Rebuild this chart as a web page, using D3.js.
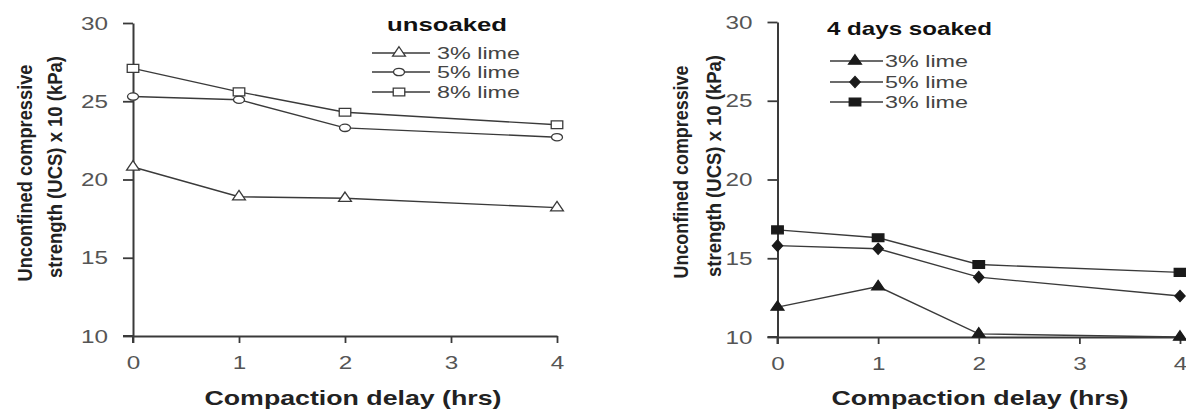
<!DOCTYPE html>
<html><head><meta charset="utf-8">
<script src="https://cdn.jsdelivr.net/npm/d3@7"></script>
<style>
html,body{margin:0;padding:0;background:#fff;}
svg{display:block;}
</style></head>
<body>
<svg id="chart" width="1186" height="409"></svg>
<script>
// ---- data ----
const delays = [0, 1, 2, 4];
const xTicks = [0, 1, 2, 3, 4];
const yTicks = [10, 15, 20, 25, 30];
const unsoaked3 = [20.8, 18.9, 18.8, 18.2];
const unsoaked5 = [25.3, 25.1, 23.3, 22.7];
const unsoaked8 = [27.1, 25.6, 24.3, 23.5];
const soaked3 = [11.9, 13.2, 10.2, 10.0];
const soaked5 = [15.8, 15.6, 13.8, 12.6];
const soaked8 = [16.8, 16.3, 14.6, 14.1];
const unsoakedLabels = ["3% lime", "5% lime", "8% lime"];
const soakedLabels = ["3% lime", "5% lime", "3% lime"];
const yLabelLines = ["Unconfined compressive", "strength (UCS) x 10 (kPa)"];
const xLabel = "Compaction delay (hrs)";

const svg = d3.select("#chart");
const ink = "#3a3a3a";

function marker(g, kind, filled, x, y) {
  let type, size, sx, sy;
  if (kind === "tri") { type = d3.symbolTriangle; size = filled ? 42 : 42; sx = 1.3; sy = 1.1; }
  else if (kind === "circ") { type = filled ? d3.symbolDiamond : d3.symbolCircle; size = filled ? 50 : 52; sx = 1.35; sy = filled ? 0.85 : 0.9; }
  else { type = d3.symbolSquare; size = 68; sx = 1.4; sy = 0.95; }
  g.append("path")
    .attr("d", d3.symbol().type(type).size(size)())
    .attr("transform", `translate(${x},${y}) scale(${sx},${sy})`)
    .attr("fill", filled ? "#1a1a1a" : "#fff")
    .attr("stroke", filled ? "#1a1a1a" : ink)
    .attr("stroke-width", 1.3)
    .attr("vector-effect", "non-scaling-stroke");
}

function panel(cfg) {
  const x = d3.scaleLinear().domain([0, 4]).range([cfg.x0, cfg.x1]);
  const y = d3.scaleLinear().domain([10, 30]).range([cfg.y0, cfg.y1]);
  const g = svg.append("g");

  // axes
  const ya = g.append("g").attr("transform", `translate(${cfg.x0},0)`)
    .call(d3.axisLeft(y).tickValues(yTicks).tickSize(10).tickSizeOuter(0).tickPadding(15));
  const xa = g.append("g").attr("transform", `translate(0,${cfg.y0})`)
    .call(d3.axisBottom(x).tickValues(xTicks).tickSize(7).tickSizeOuter(0).tickPadding(13).tickFormat(d3.format("d")));
  [ya, xa].forEach(a => {
    a.select(".domain").attr("stroke", ink).attr("stroke-width", 2);
    a.selectAll(".tick line").attr("stroke", ink).attr("stroke-width", 1.8);
    a.selectAll(".tick text")
      .attr("fill", "#555")
      .style("font-family", "'Liberation Sans', Arial, sans-serif")
      .style("font-size", "19px")
      .attr("textLength", function () { return this.textContent.length * 13.5; })
      .attr("lengthAdjust", "spacingAndGlyphs");
  });
  g.append("line").attr("x1", cfg.x0).attr("x2", cfg.x0).attr("y1", cfg.y0).attr("y2", cfg.y0 + 7)
    .attr("stroke", ink).attr("stroke-width", 2);
  g.append("line").attr("x1", cfg.x0 - 10).attr("x2", cfg.x0).attr("y1", cfg.y0).attr("y2", cfg.y0)
    .attr("stroke", ink).attr("stroke-width", 2);

  // series
  const line = d3.line().x((d, i) => x(delays[i])).y(d => y(d));
  const kinds = ["tri", "circ", "sq"];
  cfg.series.forEach((s) => {
    g.append("path").datum(s).attr("d", line).attr("fill", "none")
      .attr("stroke", ink).attr("stroke-width", 1.4);
  });
  cfg.series.forEach((s, k) => {
    s.forEach((v, i) => marker(g, kinds[k], cfg.filled, x(delays[i]), y(v)));
  });

  // legend
  g.append("text").attr("x", cfg.titleX).attr("y", cfg.titleY)
    .attr("textLength", cfg.titleW).attr("lengthAdjust", "spacingAndGlyphs")
    .style("font-family", "'Liberation Sans', Arial, sans-serif").style("font-weight", "bold")
    .style("font-size", "19px").attr("fill", "#111").text(cfg.title);
  cfg.labels.forEach((lab, k) => {
    const ly = cfg.legY[k];
    g.append("line").attr("x1", cfg.legX0).attr("x2", cfg.legX1).attr("y1", ly).attr("y2", ly)
      .attr("stroke", ink).attr("stroke-width", 1.4);
    marker(g, kinds[k], cfg.filled, cfg.legM, ly);
    g.append("text").attr("x", cfg.legT).attr("y", ly + 6)
      .attr("textLength", 83).attr("lengthAdjust", "spacingAndGlyphs")
      .style("font-family", "'Liberation Sans', Arial, sans-serif").style("font-size", "17px")
      .attr("fill", "#444").text(lab);
  });

  // axis labels
  g.append("text").attr("x", cfg.xlabX).attr("y", 405).attr("text-anchor", "middle")
    .attr("textLength", 297).attr("lengthAdjust", "spacingAndGlyphs")
    .style("font-family", "'Liberation Sans', Arial, sans-serif").style("font-weight", "bold")
    .style("font-size", "21px").attr("fill", "#222").text(xLabel);
  yLabelLines.forEach((t, k) => {
    g.append("text")
      .attr("transform", `translate(${cfg.ylabBase[k]},${cfg.ylabC[k]}) rotate(-90)`)
      .attr("text-anchor", "middle")
      .attr("textLength", cfg.ylabW[k]).attr("lengthAdjust", "spacingAndGlyphs")
      .style("font-family", "'Liberation Sans', Arial, sans-serif").style("font-weight", "bold")
      .style("font-size", "21px").attr("fill", "#222").text(t);
  });
}

panel({
  x0: 133, x1: 557, y0: 336, y1: 23,
  series: [unsoaked3, unsoaked5, unsoaked8], filled: false,
  title: "unsoaked", titleX: 387, titleY: 31, titleW: 120,
  labels: unsoakedLabels, legY: [53, 72, 92], legX0: 372, legX1: 430, legM: 399, legT: 437,
  xlabX: 353, ylabBase: [32, 62], ylabC: [173, 167], ylabW: [217, 222]
});
panel({
  x0: 777.5, x1: 1180, y0: 337, y1: 22,
  series: [soaked3, soaked5, soaked8], filled: true,
  title: "4 days soaked", titleX: 827, titleY: 35, titleW: 165,
  labels: soakedLabels, legY: [61, 82, 102], legX0: 830, legX1: 883, legM: 855, legT: 885,
  xlabX: 980, ylabBase: [688, 721], ylabC: [172, 166], ylabW: [213, 222]
});
</script>
</body></html>
